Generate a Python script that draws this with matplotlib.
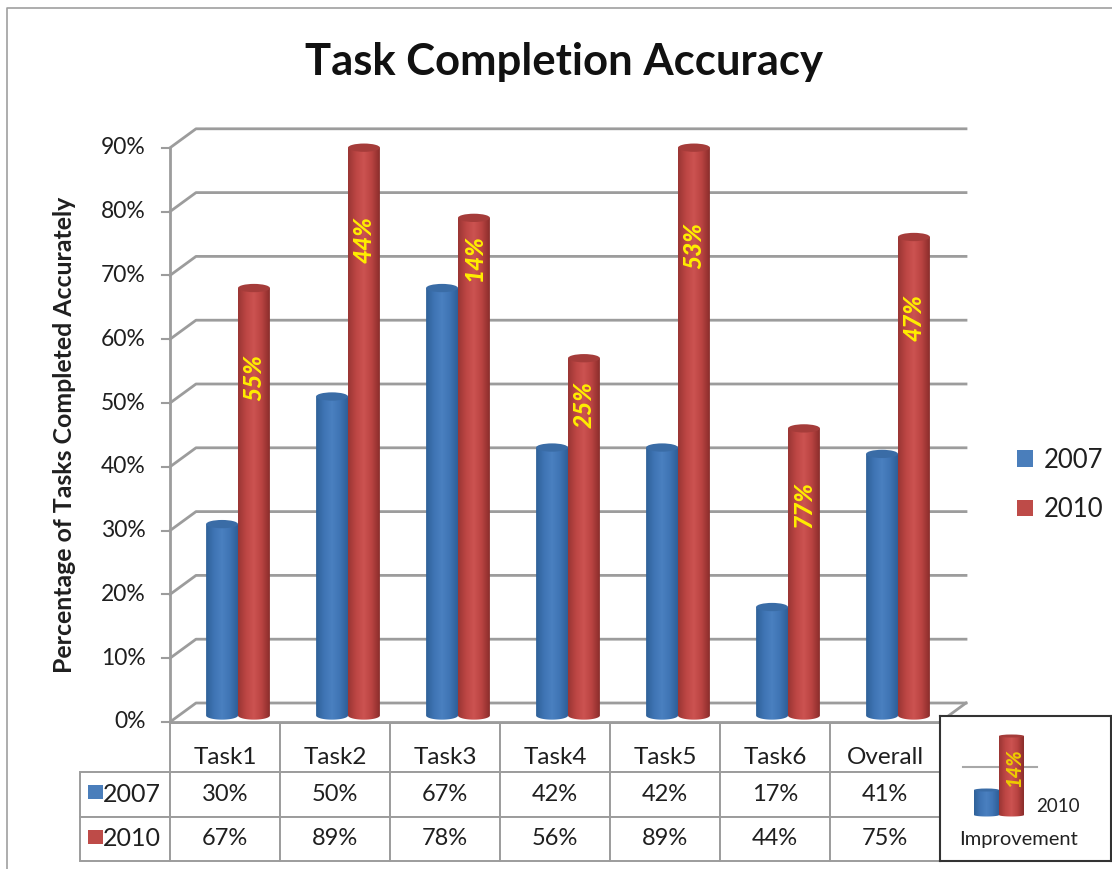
import numpy as np
import matplotlib
matplotlib.use('Agg')
import matplotlib.pyplot as plt
from matplotlib.colors import LinearSegmentedColormap
from matplotlib.patches import Ellipse, Polygon, Patch, Rectangle

categories = ['Task1', 'Task2', 'Task3', 'Task4', 'Task5', 'Task6', 'Overall']
years = ['2007', '2010']
values_2007 = [30, 50, 67, 42, 42, 17, 41]
values_2010 = [67, 89, 78, 56, 89, 45, 75]
table_2010 = [67, 89, 78, 56, 89, 44, 75]
improvement = ['55%', '44%', '14%', '25%', '53%', '77%', '47%']
label_y = [53, 74.6, 71.8, 48.7, 73.7, 33, 62.4]
y_ticks = [0, 10, 20, 30, 40, 50, 60, 70, 80, 90]
inset_values = [25, 79]

W, H = 1112, 869
GRID = '#9c9c9c'
TEXT = '#1f1f1f'
plt.rcParams['font.family'] = ['Lato', 'DejaVu Sans']

blue_cm = LinearSegmentedColormap.from_list('b', ['#2f6299', '#3f74b4', '#4a80c0', '#3f74b4', '#2f5f98'])
red_cm = LinearSegmentedColormap.from_list('r', ['#9a3634', '#bd4644', '#cc5351', '#b94341', '#8a2d2b'])
blue_top = '#3a6ca6'
red_top = '#a53c3a'


def px_axes(left, top, right, bottom):
    return fig.add_axes([left / W, 1 - bottom / H, (right - left) / W, (bottom - top) / H])


def cylinder(ax, left, width, value, cmap, top_color, ell_h, z):
    # body with a rounded foot, shaded left to right
    t = np.linspace(np.pi, 2 * np.pi, 30)
    cx = left + width / 2
    xs = cx + width / 2 * np.cos(t)
    ys = ell_h / 2 * np.sin(t)
    verts = np.column_stack([np.r_[xs, left + width, left], np.r_[ys, value, value]])
    outline = Polygon(verts, closed=True, transform=ax.transData, facecolor='none', edgecolor='none')
    ax.add_patch(outline)
    grad = np.linspace(0, 1, 64).reshape(1, -1)
    im = ax.imshow(grad, cmap=cmap, extent=(left, left + width, -ell_h, value), aspect='auto', zorder=z)
    im.set_clip_path(outline)
    ax.add_patch(Ellipse((cx, value), width, ell_h, facecolor=top_color, edgecolor='none', zorder=z + 0.1))


fig = plt.figure(figsize=(W / 100, H / 100), dpi=100, facecolor='white')

# page layer in pixels: outer frame, title
bg = fig.add_axes([0, 0, 1, 1])
bg.set_xlim(0, W)
bg.set_ylim(H, 0)
bg.axis('off')
bg.plot([7, 7, W], [H, 8, 8], color='#a0a0a0', lw=1.2)
bg.text(564, 62.5, 'Task Completion Accuracy', fontsize=31.4, fontweight='bold', color='#111111',
        ha='center', va='center')
bg.text(65, 435, 'Percentage of Tasks Completed Accurately', fontsize=17.9, fontweight='bold', color=TEXT,
        rotation=90, ha='center', va='center')

# data table below the plot, sizes given at final scale so the bbox does not shift it
cell_text = [['%d%%' % v for v in values_2007], ['%d%%' % v for v in table_2010]]
col_w = [110 / W] * 7
tab = bg.table(cellText=cell_text, colLabels=[''] * 7, colWidths=col_w, cellLoc='center',
               bbox=[170 / W, 1 - 861 / H, 770 / W, 138 / H])
tab.auto_set_font_size(False)
# row labels added by hand, the rowLabels option forces its own column width
for r, year in enumerate(years):
    tab.add_cell(r + 1, -1, width=90 / W, height=44.5 / H, text=year, loc='right')
for (r, c), cell in tab.get_celld().items():
    cell.set_edgecolor(GRID)
    cell.set_linewidth(1.4)
    cell.set_height((49 if r == 0 else 44.5) / H)
    cell.get_text().set_color(TEXT)
    cell.get_text().set_fontsize(18 if c == -1 else 17)
for i, name in enumerate(categories):
    bg.text(225 + 110 * i, 757, name, fontsize=17.5, color=TEXT, ha='center', va='center')
bg.add_patch(Rectangle((88, 785), 15, 14, facecolor='#4a7ebb', edgecolor='none', zorder=5))
bg.add_patch(Rectangle((88, 830), 15, 14, facecolor='#be4b48', edgecolor='none', zorder=5))

# main plot, data plane set through the middle of the depth
ax = px_axes(183, 77.5, 953, 728.26)
ax.set_xlim(0, 7)
ax.set_ylim(-2, 100)
ax.axis('off')
ax.patch.set_alpha(0)

front_dx, front_dy = -13 / 110, -6.5 / 6.38
back_dx, back_dy = 13 / 110, 12.5 / 6.38
for v in y_ticks:
    ax.plot([front_dx, back_dx, 7 + back_dx], [v + front_dy, v + back_dy, v + back_dy],
            color=GRID, lw=2, zorder=1, clip_on=False)
    ax.plot([front_dx - 0.07, front_dx], [v + front_dy, v + front_dy], color=GRID, lw=1.5, clip_on=False)
    ax.text(front_dx - 0.22, v + front_dy, '%d%%' % v, fontsize=16.5, color=TEXT, ha='right', va='center')
ax.plot([front_dx, front_dx], [front_dy, 90 + front_dy], color=GRID, lw=2, zorder=1, clip_on=False)
ax.plot([front_dx, 7 + front_dx], [front_dy, front_dy], color=GRID, lw=2, zorder=1, clip_on=False)
ax.plot([7 + front_dx, 7 + back_dx], [front_dy, back_dy], color=GRID, lw=2, zorder=1, clip_on=False)

bar_w = 0.29
for i in range(len(categories)):
    centre = i + 0.5
    cylinder(ax, centre - bar_w, bar_w, values_2007[i], blue_cm, blue_top, 1.3, 3 + i)
    cylinder(ax, centre, bar_w, values_2010[i], red_cm, red_top, 1.3, 3.5 + i)
    ax.text(centre + bar_w / 2, label_y[i], improvement[i], color='#ffee00', fontsize=17.5, fontweight=900,
            style='italic', rotation=90, ha='center', va='center', zorder=20)
ax.set_xlim(0, 7)
ax.set_ylim(-2, 100)

# side legend
handles = [Patch(facecolor='#4a7ebb', label=years[0]), Patch(facecolor='#be4b48', label=years[1])]
fig.legend(handles=handles, loc='center left', bbox_to_anchor=(994 / W, 1 - 485 / H), frameon=False,
           fontsize=18.5, handlelength=0.62, handleheight=0.62, handletextpad=0.4, labelspacing=0.95,
           labelcolor=TEXT)

# boxed key in the corner
key = px_axes(940, 716, 1111, 861)
key.set_xticks([])
key.set_yticks([])
key.set_zorder(10)
for s in key.spines.values():
    s.set_color('#333333')
    s.set_linewidth(1.5)
inset = px_axes(940, 716, 1111, 861)
inset.axis('off')
inset.patch.set_alpha(0)
inset.set_zorder(11)
inset.plot([963, 1037], [48, 48], color='#a8a8a8', lw=1.5, zorder=1)
cylinder(inset, 974, 25, inset_values[0], blue_cm, blue_top, 3, 3)
cylinder(inset, 999, 25, inset_values[1], red_cm, red_top, 3, 4)
inset.set_xlim(940, 1111)
inset.set_ylim(-46, 99)
inset.text(1014, 47, improvement[2], color='#eecc00', fontsize=14.5, fontweight=900, style='italic',
           rotation=90, ha='center', va='center', zorder=20)
inset.text(1058, 9, years[1], color='#222222', fontsize=13.5, ha='center', va='center')
inset.text(1019, -24, 'Improvement', color='#222222', fontsize=14.5, ha='center', va='center')

fig.savefig('out.png', dpi=100)
